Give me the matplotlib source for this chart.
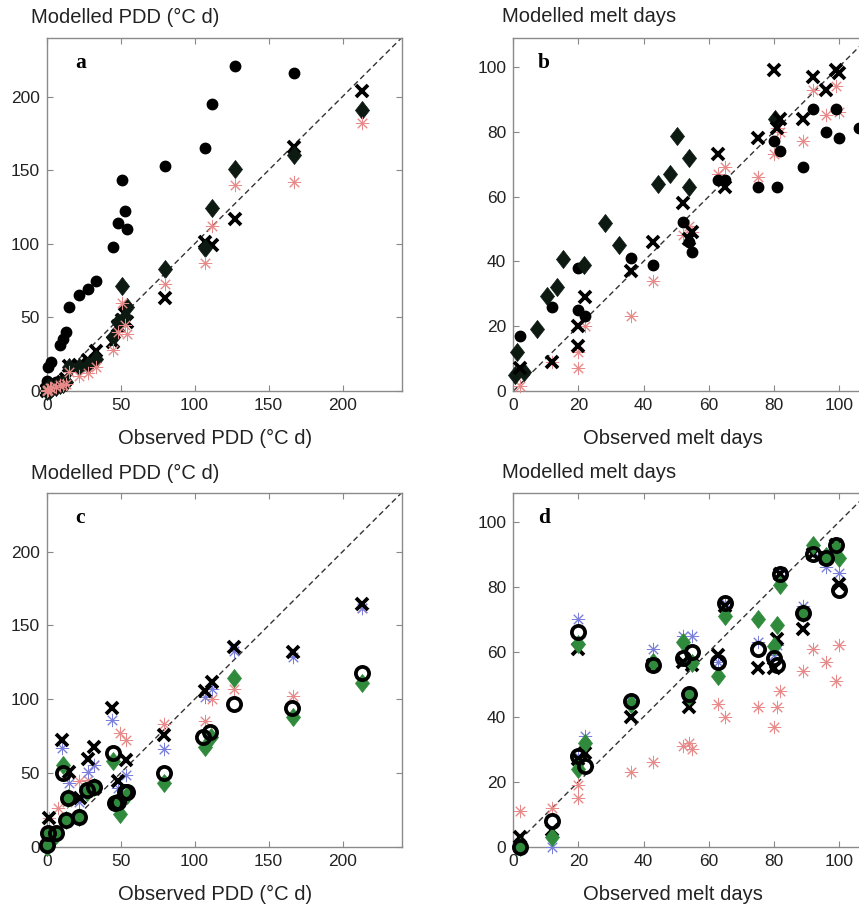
import numpy as np
import matplotlib
matplotlib.use('Agg')
import matplotlib.pyplot as plt
from matplotlib.path import Path

nan = np.nan

# ---------------- Panel a: PDD, model set 1 ----------------
pdd_obs_a = [0, 0.5, 1, 2, 3, 6, 9, 11, 13, 15, 22, 28, 33, 45, 48, 51, 53, 54, 80, 107, 112, 127, 167, 213]
a_circle = [3, 7, 16, 5, 20, 6, 31, 35, 40, 57, 65, 69, 75, 98, 114, 143, 122, 110, 153, 165, 195, 221, 216, nan]
a_diamond = [0, 1, 2, 1, 2, 3, 4, 5, 6, 16, 16, 18, 22, 37, 47, 71, 50, 57, 83, 97, 124, 151, 160, 191]
a_cross = [1, 0, 1, 2, 3, 4, 5, 6, 8, 17, 18, 21, 27, 33, 44, 48, 52, 47, 63, 101, 99, 117, 166, 204]
a_red = [0, 1, 1, 2, 2, 3, 4, 4, 5, 13, 10, 12, 16, 28, 40, 60, 45, 39, 73, 87, 112, 140, 142, 182]

# ---------------- Panel b: melt days, model set 1 ----------------
melt_obs_b = [2, 12, 20, 20, 22, 36, 43, 52, 54, 55, 63, 65, 75, 80, 81, 82, 89, 92, 96, 99, 100, 106]
b_circle = [17, 26, 38, 25, 23, 41, 39, 52, 46, 43, 65, 65, 63, 77, 63, 74, 69, 87, 80, 87, 78, 81]
b_cross = [7, 9, 14, 20, 29, 37, 46, 58, 47, 49, 73, 63, 78, 99, 81, 84, 84, 97, 93, 99, 98, nan]
b_red = [1.5, 9, 7, 12, 20, 23, 34, 48, 51, 49, 67, 69, 66, 73, 81, 80, 77, 93, 85, 94, 86, nan]
b_diam_x = [0.5, 1.2, 3.3, 7.4, 10.5, 13.4, 15.2, 21.8, 28.2, 32.6, 44.3, 48, 50.3, 53.9, 53.9, 80.5]
b_diam_y = [4.9, 11.9, 5.9, 19, 29.2, 32.1, 40.8, 38.8, 51.8, 44.9, 63.9, 66.8, 78.8, 71.9, 62.9, 83.9]

# ---------------- Panel c: PDD, model set 2 ----------------
c_circle_x = [0, 1, 6, 11.2, 12.8, 14.6, 22.1, 27.5, 32.2, 44.7, 46, 48.5, 53.2, 54.1, 79.6, 106, 110.5, 126.3, 165.8, 213.1]
c_circle_y = [1, 9, 9, 49.8, 18, 32.8, 20, 38.4, 40.7, 63.3, 29.4, 30.5, 37.3, 37.3, 49.8, 74.6, 78, 96.7, 94.2, 117.5]
c_diam_x = [0, 1, 6, 11.2, 12.8, 14.6, 22.1, 27, 32.2, 44.6, 48.5, 49.6, 54.1, 79.4, 106.7, 111.1, 126.7, 166.4, 213.1]
c_diam_y = [0, 8, 8, 55.4, 18, 32.8, 20, 37, 40.7, 58.3, 30, 22.2, 35, 43, 67.4, 74.6, 114.6, 88.1, 111.2]
c_cross_x = [1.8, 10.1, 15.1, 22.5, 28, 32, 44, 48.3, 53.5, 79.6, 107.1, 111.8, 126.7, 166.4, 213.1]
c_cross_y = [19.2, 72.3, 50.8, 32.8, 59.5, 67.8, 93.8, 44.5, 58.8, 76, 105.8, 111.5, 135.6, 131.8, 164.5]
c_blue_x = [2, 5, 10.1, 15.1, 22, 28, 32, 44, 48.5, 53.7, 79.6, 107.1, 111.8, 126.7, 166.4, 213.1]
c_blue_y = [5, 10, 66.7, 43, 30, 50.5, 55.4, 85.9, 40, 48.6, 66, 101.7, 106.7, 132.9, 128.8, 161.6]
c_red_x = [1.8, 7.6, 14, 21.5, 28, 32.2, 49.5, 53.5, 79.4, 106.7, 111.8, 126.7, 166.4, 213.1]
c_red_y = [19.2, 26.5, 30, 44.5, 45, 55.4, 76.9, 72.3, 83.3, 85.2, 99.9, 106.7, 102.2, 162]

# ---------------- Panel d: melt days, model set 2 ----------------
melt_obs_d = [2, 12, 20, 20, 22, 36, 43, 52, 54, 55, 63, 65, 75, 80, 81, 82, 89, 92, 96, 99, 100]
d_circle = [0, 8, 66, 28, 25, 45, 56, 58, 47, 60, 57, 75, 61, 58, 56, 84, 72, 90, 89, 93, 79]
d_cross = [3, 5, 61, 27, 29, 40, 56, 57, 43, 56, 59, 74, 55, 55, 64, 84, 67, 90, 89, 93, 81]
d_diam = [0, 3, 62.5, 24, 32, 44, 57, 63, 46.5, 56.5, 52.6, 71, 70, 61.7, 68.3, 80.7, 72, 93, 89.5, 92, 88.9]
d_blue = [1, 0, 70, 28, 34, 45, 61, 65, 47, 65, 57, 75, 63, 59, 62, 84.5, 74, 91, 86, 93, 84.3]
d_red = [11, 12, 19, 15, nan, 23, 26, 31, 32, 30, 44, 40, 43, 37, 43, 48, 54, 61, 57, 51, 62]

pdd_ticks = [0, 50, 100, 150, 200]
melt_ticks = [0, 20, 40, 60, 80, 100]

plt.rcParams['font.family'] = ['Liberation Sans', 'DejaVu Sans']

W, H = 859, 905
fig = plt.figure(figsize=(W / 100, H / 100), dpi=100)


def px_axes(left, top, w, h):
    return fig.add_axes([left / W, 1 - (top + h) / H, w / W, h / H])


ax_a = px_axes(46.7, 37.7, 355, 353.3)
ax_b = px_axes(513.3, 37.7, 355, 353.3)
ax_c = px_axes(46.7, 492.7, 355, 354)
ax_d = px_axes(513.3, 492.7, 355, 354)


def style(ax, lim, ticks):
    ax.set_xlim(0, lim)
    ax.set_ylim(0, lim)
    ax.set_xticks(ticks)
    ax.set_yticks(ticks)
    ax.set_xticklabels([str(t) for t in ticks])
    ax.set_yticklabels([str(t) for t in ticks])
    ax.tick_params(direction='in', top=True, right=True, length=4, width=0.8,
                   color='#888888', labelsize=12.5, labelcolor='#222222', pad=5)
    for s in ax.spines.values():
        s.set_color('#8a8a8a')
        s.set_linewidth(1.0)
    ax.plot([0, lim], [0, lim], ls=(0, (4, 2.5)), color='#333333', lw=1.0, zorder=1)


RED = '#e88a8a'
BLUE = '#7a7fdc'
GREEN = '#2f8a3c'
DARK = '#0c1a12'
AST = (8, 2, 0)
DIAMOND = Path([(0, 1), (0.78, 0), (0, -1), (-0.78, 0), (0, 1)],
               [Path.MOVETO, Path.LINETO, Path.LINETO, Path.LINETO, Path.CLOSEPOLY])

common = dict(ls='none', clip_on=False)


def filled_circle(ax, x, y):
    ax.plot(x, y, marker='o', ms=7.5, color='black', zorder=4, **common)


def dark_diamond(ax, x, y):
    ax.plot(x, y, marker=DIAMOND, ms=13, mfc=DARK, mec=DARK, mew=0.5, zorder=5, **common)


def cross(ax, x, y, z=6):
    ax.plot(x, y, marker='x', ms=8.5, mew=2.7, color='black', zorder=z, **common)


def asterisk(ax, x, y, c, z=3):
    ax.plot(x, y, marker=AST, ms=9.5, mew=0.7, color=c, zorder=z, **common)


def open_circle(ax, x, y):
    ax.plot(x, y, marker='o', ms=9.5, mfc='none', mec='black', mew=2.7, zorder=6, **common)


def green_diamond(ax, x, y):
    ax.plot(x, y, marker=DIAMOND, ms=13, mfc=GREEN, mec=GREEN, mew=0.5, zorder=5, **common)


# Panel a
style(ax_a, 240, pdd_ticks)
filled_circle(ax_a, pdd_obs_a, a_circle)
cross(ax_a, pdd_obs_a, a_cross, z=4.5)
dark_diamond(ax_a, pdd_obs_a, a_diamond)
asterisk(ax_a, pdd_obs_a, a_red, RED, z=6)

# Panel b
style(ax_b, 109, melt_ticks)
filled_circle(ax_b, melt_obs_b, b_circle)
dark_diamond(ax_b, b_diam_x, b_diam_y)
asterisk(ax_b, melt_obs_b, b_red, RED, z=3)
cross(ax_b, melt_obs_b, b_cross, z=6)

# Panel c
style(ax_c, 240, pdd_ticks)
asterisk(ax_c, c_red_x, c_red_y, RED, z=2)
asterisk(ax_c, c_blue_x, c_blue_y, BLUE, z=3)
cross(ax_c, c_cross_x, c_cross_y, z=4)
green_diamond(ax_c, c_diam_x, c_diam_y)
open_circle(ax_c, c_circle_x, c_circle_y)

# Panel d
style(ax_d, 109, melt_ticks)
asterisk(ax_d, melt_obs_d, d_red, RED, z=2)
asterisk(ax_d, melt_obs_d, d_blue, BLUE, z=3)
cross(ax_d, melt_obs_d, d_cross, z=4)
green_diamond(ax_d, melt_obs_d, d_diam)
open_circle(ax_d, melt_obs_d, d_circle)

# Panel letters
for ax, letter, xf in [(ax_a, 'a', 0.08), (ax_b, 'b', 0.07), (ax_c, 'c', 0.08), (ax_d, 'd', 0.07)]:
    ax.text(xf, 0.913, letter, transform=ax.transAxes, ha='left', va='baseline',
            fontsize=15.5, fontweight='bold', family=['Liberation Serif', 'DejaVu Serif'], zorder=10)

# Axis titles
lab = dict(fontsize=14.5, color='#222222')
fig.text(31 / W, 1 - 17 / H, 'Modelled PDD (°C d)', ha='left', va='center', **lab)
fig.text(501.7 / W, 1 - 17 / H, 'Modelled melt days', ha='left', va='center', **lab)
fig.text(31 / W, 1 - 473 / H, 'Modelled PDD (°C d)', ha='left', va='center', **lab)
fig.text(501.7 / W, 1 - 473 / H, 'Modelled melt days', ha='left', va='center', **lab)
fig.text(215 / W, 1 - 438 / H, 'Observed PDD (°C d)', ha='center', va='center', **lab)
fig.text(673 / W, 1 - 438 / H, 'Observed melt days', ha='center', va='center', **lab)
fig.text(215 / W, 1 - 894 / H, 'Observed PDD (°C d)', ha='center', va='center', **lab)
fig.text(673 / W, 1 - 894 / H, 'Observed melt days', ha='center', va='center', **lab)

fig.savefig('out.png', dpi=100)
